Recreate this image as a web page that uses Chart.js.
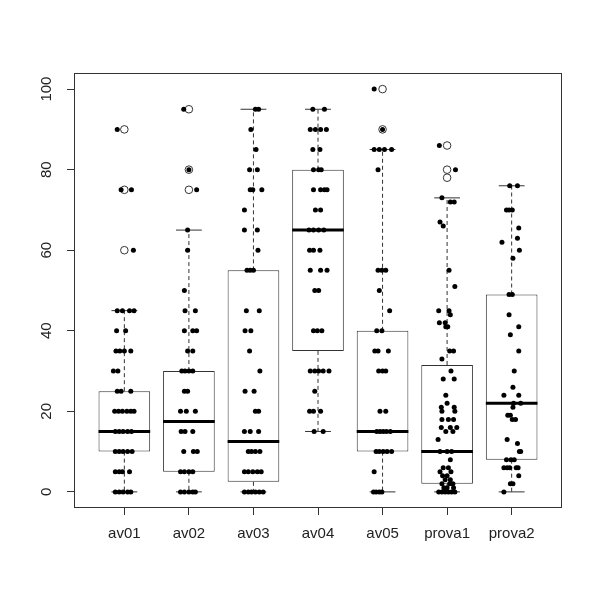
<!DOCTYPE html>
<html lang="en">
<head>
    <meta charset="UTF-8">
    <title>Boxplot</title>
    <script src="https://cdn.jsdelivr.net/npm/chart.js"></script>
    <style>
        body { margin: 0; background: #fff; }
    </style>
</head>
<body>
    <canvas id="myChart" width="600" height="600"></canvas>

    <script>
        const categories = ['av01', 'av02', 'av03', 'av04', 'av05', 'prova1', 'prova2'];
        const yTicks = [0, 20, 40, 60, 80, 100];

        // box statistics
        const lowerWhisker = [0, 0, 0, 15, 0, 0, 0];
        const firstQuartile = [10, 5, 2.5, 35, 10, 2, 8];
        const medians = [15, 17.5, 12.5, 65, 15, 10, 22];
        const thirdQuartile = [25, 30, 55, 80, 40, 31.5, 49];
        const upperWhisker = [45, 65, 95, 95, 85, 73, 76];
        const outliers = [[90, 75, 60], [95, 80, 75], [], [], [100, 90], [86, 80, 78], []];

        // raw points: [value, jitter in category units]
        const av01Points = [[90,-0.11],[75,-0.05],[75,0.11],[60,0.14],
            [45,-0.11],[45,-0.03],[45,0.08],[45,0.15],[40,-0.12],[40,0.02],
            [35,-0.13],[35,-0.07],[35,0],[35,0.10],[30,-0.17],[30,-0.10],
            [25,-0.11],[25,-0.05],[25,0.10],
            [20,-0.15],[20,-0.09],[20,-0.03],[20,0.04],[20,0.10],[20,0.15],
            [15,-0.14],[15,-0.08],[15,-0.02],[15,0.05],[15,0.11],
            [10,-0.14],[10,-0.08],[10,-0.02],[10,0.05],[10,0.12],
            [5,-0.14],[5,-0.08],[5,-0.03],[5,0.08],
            [0,-0.14],[0,-0.08],[0,-0.02],[0,0.05],[0,0.10]];
        const av02Points = [[95,-0.08],[80,0],[75,0.12],[65,-0.02],[60,-0.02],[50,-0.07],
            [45,-0.06],[45,0.10],[40,-0.07],[40,0.06],[40,0.12],[35,-0.02],[35,0.06],
            [30,-0.11],[30,-0.06],[30,0],[30,0.06],[25,-0.07],[25,-0.02],
            [20,-0.13],[20,-0.04],[20,0.10],[15,-0.12],[15,-0.06],[15,0.06],
            [10,-0.08],[10,0.07],[10,0.13],[5,-0.13],[5,-0.07],[5,0],[5,0.06],
            [0,-0.13],[0,-0.07],[0,0],[0,0.06],[0,0.10]];
        const av03Points = [[95,0.03],[95,0.08],[90,-0.04],[85,0.04],[80,-0.06],[80,0.06],
            [75,-0.05],[75,-0.01],[75,0.13],[70,-0.14],[65,-0.14],[65,0.06],[60,0.07],
            [55,-0.10],[55,-0.05],[55,0],[45,-0.11],[45,0.09],[40,-0.13],[40,-0.04],
            [35,-0.06],[30,0.10],[25,-0.13],[25,0.01],[20,0.03],[20,0.08],
            [15,-0.14],[15,-0.05],[15,0.08],[10,-0.08],[10,-0.03],[10,0.03],[10,0.10],
            [5,-0.14],[5,-0.08],[5,-0.01],[5,0.06],[5,0.12],
            [0,-0.14],[0,-0.08],[0,-0.03],[0,0.03],[0,0.09],[0,0.15]];
        const av04Points = [[95,-0.08],[95,0.10],[90,-0.12],[90,-0.04],[90,0.04],[90,0.13],
            [85,-0.08],[85,0.03],[80,-0.07],[80,0.01],[80,0.05],
            [75,-0.07],[75,0.04],[75,0.10],[75,0.14],[70,-0.04],[70,0.04],
            [65,-0.14],[65,-0.07],[65,0.01],[65,0.09],[60,-0.13],[60,-0.07],[60,0.03],
            [55,-0.12],[55,0.04],[55,0.14],[50,-0.05],[50,0.01],
            [40,-0.07],[40,-0.01],[40,0.06],
            [30,-0.12],[30,-0.05],[30,0.01],[30,0.08],[30,0.17],[25,-0.05],
            [20,-0.13],[20,-0.07],[20,0.04],[15,-0.06],[15,0.08]];
        const av05Points = [[100,-0.13],[90,0],[85,-0.13],[85,-0.05],[85,0.03],[85,0.14],[80,-0.07],
            [55,-0.07],[55,-0.01],[55,0.05],[50,-0.05],[45,0.11],[40,-0.09],[40,-0.01],
            [35,-0.12],[35,-0.07],[35,0.09],[30,-0.06],[30,0],[30,0.05],[20,-0.04],[20,0.05],
            [15,-0.09],[15,-0.04],[15,0.01],[15,0.06],[15,0.12],
            [10,-0.10],[10,-0.05],[10,0.01],[10,0.07],[10,0.14],[5,-0.13],
            [0,-0.14],[0,-0.10],[0,-0.05],[0,-0.01]];
        const prova1Points = [[86,-0.12],[80,0.13],[73,-0.08],[72,0.05],[72,0.11],[67,-0.11],[66,-0.06],
            [55,0.03],[51,0.12],[45,-0.13],[45,0.03],[44,0.05],[42,-0.12],[42,-0.03],[41,-0.02],[41,0.01],
            [35,0.04],[35,0.10],[33,-0.08],[30,0.06],[28,-0.06],[28,0.11],[24,-0.02],[22,0],
            [21,-0.09],[21,0.11],[20,-0.08],[20,0.12],[18,-0.08],[18,0.02],[18,0.10],
            [16,-0.09],[16,0.05],[16,0.15],[15,-0.02],[15,0.09],[13,-0.14],
            [10,-0.11],[10,0],[10,0.07],[8,0.05],[6,-0.06],[6,0.02],[5,-0.11],[5,0.06],
            [4,-0.07],[4,0],[3,-0.03],[3,0.05],[2,-0.08],[2,0.04],[2,0.09],
            [1,-0.05],[1,0],[1,0.10],[0,-0.13],[0,-0.08],[0,-0.03],[0,0.02],[0,0.07],[0,0.12]];
        const prova2Points = [[76,-0.03],[76,0.09],[70,-0.08],[70,-0.04],[70,0.01],[65.5,0.11],[63,0.09],
            [62,-0.15],[60,0.12],[58,0.02],[49,-0.04],[49,0.01],[44,-0.04],[41,0.11],[39,-0.02],
            [35,0.11],[30,0.04],[26,0.02],[24,-0.12],[24,0.11],[22,0.03],[22,0.14],[21,0.02],
            [19,-0.06],[19,-0.02],[18,0.01],[18,0.06],[13,-0.07],[12,0.09],[10,0.12],[10,0.14],
            [8,-0.08],[8,-0.01],[8,0.04],[6,-0.12],[6,-0.07],[6,-0.03],[6,0.07],[6,0.10],
            [4,0.11],[2,-0.02],[2,0.02],[0,-0.12]];
        const groupPoints = [av01Points, av02Points, av03Points, av04Points, av05Points, prova1Points, prova2Points];

        const lineColor = '#333';

        // build datasets from the arrays above
        const boxData = categories.map((c, i) => ({ x: i + 1, y: [firstQuartile[i], thirdQuartile[i]] }));
        const medianData = [], whiskerData = [], capData = [], outlierData = [], pointData = [];
        categories.forEach((c, i) => {
            const x = i + 1;
            medianData.push({ x: x - 0.4, y: medians[i] }, { x: x + 0.4, y: medians[i] }, { x: x + 0.4, y: null });
            whiskerData.push({ x: x, y: thirdQuartile[i] }, { x: x, y: upperWhisker[i] }, { x: x, y: null },
                { x: x, y: firstQuartile[i] }, { x: x, y: lowerWhisker[i] }, { x: x, y: null });
            capData.push({ x: x - 0.2, y: upperWhisker[i] }, { x: x + 0.2, y: upperWhisker[i] }, { x: x + 0.2, y: null },
                { x: x - 0.2, y: lowerWhisker[i] }, { x: x + 0.2, y: lowerWhisker[i] }, { x: x + 0.2, y: null });
            outliers[i].forEach(v => outlierData.push({ x: x, y: v }));
            groupPoints[i].forEach(p => pointData.push({ x: x + p[1], y: p[0] }));
        });

        const framePlugin = {
            id: 'frame',
            afterDraw(chart) {
                const { ctx, chartArea: a, scales } = chart;
                ctx.save();
                ctx.strokeStyle = lineColor;
                ctx.lineWidth = 1;
                ctx.strokeRect(Math.round(a.left) + 0.5, Math.round(a.top) + 0.5,
                    Math.round(a.right - a.left) - 1, Math.round(a.bottom - a.top) - 1);
                // rotated y tick labels, like R
                ctx.fillStyle = '#222';
                ctx.font = '15px "Liberation Sans", Arial, sans-serif';
                ctx.textAlign = 'center';
                ctx.textBaseline = 'middle';
                yTicks.forEach(v => {
                    const y = scales.y.getPixelForValue(v);
                    ctx.save();
                    ctx.translate(47, y);
                    ctx.rotate(-Math.PI / 2);
                    ctx.fillText(String(v), 0, 0);
                    ctx.restore();
                });
                ctx.restore();
            }
        };

        const ctx = document.getElementById('myChart').getContext('2d');
        let myChart = new Chart(ctx, {
            type: 'bar',
            data: {
                datasets: [{
                    type: 'scatter',
                    data: pointData,
                    order: 0,
                    pointRadius: 2.5,
                    pointBackgroundColor: '#000',
                    pointBorderWidth: 0
                }, {
                    type: 'scatter',
                    data: outlierData,
                    order: 1,
                    pointRadius: 3.8,
                    pointBackgroundColor: 'rgba(0,0,0,0)',
                    pointBorderColor: lineColor,
                    pointBorderWidth: 1
                }, {
                    type: 'line',
                    data: medianData,
                    order: 2,
                    borderColor: '#000',
                    borderWidth: 3,
                    borderCapStyle: 'butt',
                    pointRadius: 0,
                    spanGaps: false,
                    tension: 0
                }, {
                    type: 'line',
                    data: capData,
                    order: 3,
                    borderColor: lineColor,
                    borderWidth: 1,
                    pointRadius: 0,
                    spanGaps: false
                }, {
                    type: 'line',
                    data: whiskerData,
                    order: 4,
                    borderColor: lineColor,
                    borderWidth: 1,
                    borderDash: [4, 3],
                    pointRadius: 0,
                    spanGaps: false
                }, {
                    type: 'bar',
                    data: boxData,
                    order: 5,
                    backgroundColor: '#fff',
                    borderColor: lineColor,
                    borderWidth: 1,
                    borderSkipped: false,
                    barPercentage: 0.8,
                    categoryPercentage: 1
                }]
            },
            options: {
                responsive: false,
                animation: false,
                layout: { padding: { top: 73, right: 38, bottom: 0, left: 0 } },
                plugins: {
                    legend: { display: false },
                    tooltip: { enabled: false }
                },
                scales: {
                    x: {
                        type: 'linear',
                        min: 0.22,
                        max: 7.78,
                        offset: false,
                        border: { display: false },
                        grid: { offset: false, drawOnChartArea: false, drawTicks: true, tickLength: 7, color: lineColor },
                        ticks: {
                            color: '#222',
                            padding: 10,
                            maxRotation: 0,
                            font: { family: '"Liberation Sans", Arial, sans-serif', size: 15 },
                            callback: (v) => categories[v - 1]
                        },
                        afterBuildTicks: (scale) => { scale.ticks = categories.map((c, i) => ({ value: i + 1 })); },
                        afterFit: (scale) => { scale.height = 92; }
                    },
                    y: {
                        type: 'linear',
                        min: -4,
                        max: 104,
                        border: { display: false },
                        grid: { drawOnChartArea: false, drawTicks: true, tickLength: 7, color: lineColor },
                        ticks: { display: false },
                        afterBuildTicks: (scale) => { scale.ticks = yTicks.map(v => ({ value: v })); },
                        afterFit: (scale) => { scale.width = 74; }
                    }
                }
            },
            plugins: [framePlugin]
        });
    </script>
</body>
</html>
